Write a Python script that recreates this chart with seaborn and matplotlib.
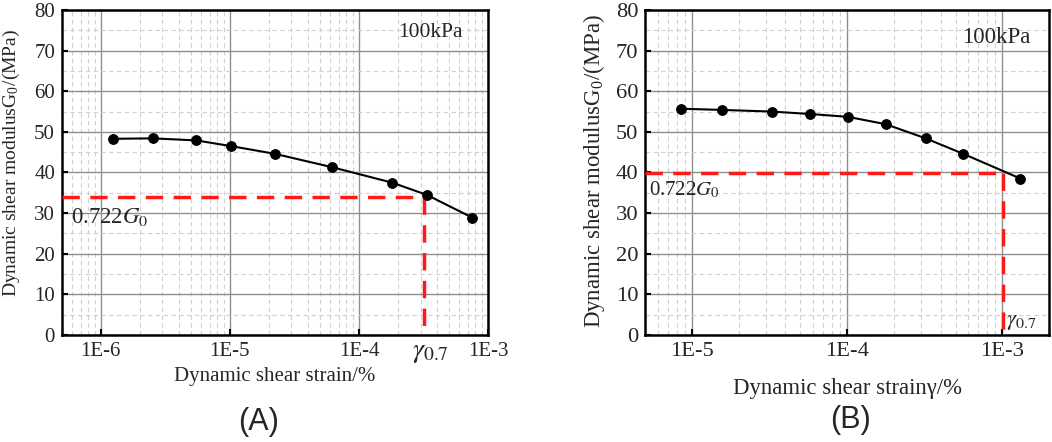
import matplotlib
matplotlib.use("Agg")
import matplotlib.pyplot as plt
import seaborn as sns
import numpy as np
from matplotlib.ticker import LogLocator, MultipleLocator, FixedLocator, FixedFormatter, NullFormatter

# ---- data ----
strain_a = [1.25e-6, 2.53e-6, 5.5e-6, 1.02e-5, 2.23e-5, 6.2e-5, 1.81e-4, 3.35e-4, 7.55e-4]
modulus_a = [48.3, 48.4, 47.9, 46.5, 44.6, 41.3, 37.5, 34.5, 28.9]
ref_mod_a = 33.9
ref_strain_a = 3.17e-4

strain_b = [8.5e-6, 1.57e-5, 3.26e-5, 5.77e-5, 1.01e-4, 1.77e-4, 3.21e-4, 5.6e-4, 1.31e-3]
modulus_b = [55.7, 55.4, 55.0, 54.4, 53.7, 51.9, 48.4, 44.6, 38.5]
ref_mod_b = 39.9
ref_strain_b = 1.01e-3

xticks_a = [1e-6, 1e-5, 1e-4, 1e-3]
xticklabels_a = ["1E-6", "1E-5", "1E-4", "1E-3"]
xticks_b = [1e-5, 1e-4, 1e-3]
xticklabels_b = ["1E-5", "1E-4", "1E-3"]
yticks = [0, 10, 20, 30, 40, 50, 60, 70, 80]

sns.set_theme(style="white")
plt.rcParams['font.family'] = ['Liberation Serif', 'DejaVu Serif']
plt.rcParams['mathtext.fontset'] = 'stix'

fig = plt.figure(figsize=(10.52, 4.42), dpi=100)
axA = fig.add_axes([62/1052, 1-335/442, (488-62)/1052, 325/442])
axB = fig.add_axes([645.3/1052, 1-335/442, (1049-645.3)/1052, 325/442])

FS_A = 15
FS_B = 16.2

def style(ax, xlim, xticks, xlabels, fs):
    ax.set_xscale('log')
    ax.set_xlim(*xlim)
    ax.set_ylim(0, 80)
    ax.xaxis.set_major_locator(FixedLocator(xticks))
    ax.xaxis.set_major_formatter(FixedFormatter(xlabels))
    ax.xaxis.set_minor_locator(LogLocator(base=10, subs=np.arange(2, 10), numticks=20))
    ax.xaxis.set_minor_formatter(NullFormatter())
    ax.yaxis.set_major_locator(FixedLocator(yticks))
    ax.yaxis.set_minor_locator(MultipleLocator(5))
    ax.grid(which='major', color='#8f8f8f', linewidth=1.0, linestyle='-')
    ax.grid(which='minor', color='#d0d0d0', linewidth=0.8, linestyle=(0, (4, 3)))
    ax.set_axisbelow(True)
    for s in ax.spines.values():
        s.set_color('black')
        s.set_linewidth(1.8)
    ax.tick_params(which='major', direction='in', length=4, width=1.5, color='black',
                   labelsize=fs, pad=5, bottom=True, left=True, top=False, right=False)
    ax.tick_params(which='minor', length=0)

def draw(ax, xs, ys, rx, ry):
    sns.lineplot(x=xs, y=ys, ax=ax, color='black', linewidth=1.5, marker='o',
                 markersize=7, markeredgecolor='black', estimator=None, sort=False, zorder=5)
    ax.plot([ax.get_xlim()[0], rx], [ry, ry], color='#ff1a1a', linewidth=2.5,
            linestyle=(0, (5, 3)), zorder=4)
    ax.plot([rx, rx], [ry, 0], color='#ff1a1a', linewidth=2.5,
            linestyle=(0, (5, 3)), zorder=4)

style(axA, (5e-7, 1e-3), xticks_a, xticklabels_a, FS_A)
draw(axA, strain_a, modulus_a, ref_strain_a, ref_mod_a)
style(axB, (5e-6, 2e-3), xticks_b, xticklabels_b, FS_B)
draw(axB, strain_b, modulus_b, ref_strain_b, ref_mod_b)

ylabel = "Dynamic shear modulusG$_\\mathregular{0}$/(MPa)"
axA.set_ylabel(ylabel, fontsize=14)
axA.yaxis.set_label_coords(-0.094, 0.53)
axB.set_ylabel(ylabel, fontsize=16.5)
axB.yaxis.set_label_coords(-0.094, 0.505)
axA.set_xlabel("Dynamic shear strain/%", fontsize=FS_A, labelpad=4)
axB.set_xlabel("Dynamic shear strain\u03b3/%", fontsize=16.4, labelpad=12)

axA.text(0.94, 0.93, "100kPa", transform=axA.transAxes, ha='right', va='center', fontsize=15.5)
axB.text(0.953, 0.915, "100kPa", transform=axB.transAxes, ha='right', va='center', fontsize=16.5)

axA.text(0.02, 29, "0.722$G_0$", transform=axA.get_yaxis_transform(), ha='left', va='center', fontsize=16.5)
axB.text(0.01, 35.7, "0.722$G_0$", transform=axB.get_yaxis_transform(), ha='left', va='center', fontsize=15)

axA.text(ref_strain_a * 1.12, -4.3, "$\\gamma_{0.7}$", transform=axA.transData, ha='center', va='center',
         fontsize=20, clip_on=False)
axB.text(ref_strain_b * 1.04, 3.2, "$\\gamma_{0.7}$", transform=axB.transData, ha='left', va='center',
         fontsize=16.5)

fig.text(259/1052, 1-422/442, "(A)", ha='center', va='center', fontsize=22, family='Liberation Sans')
fig.text(851/1052, 1-420/442, "(B)", ha='center', va='center', fontsize=22, family='Liberation Sans')

fig.savefig("out.png", dpi=100)
